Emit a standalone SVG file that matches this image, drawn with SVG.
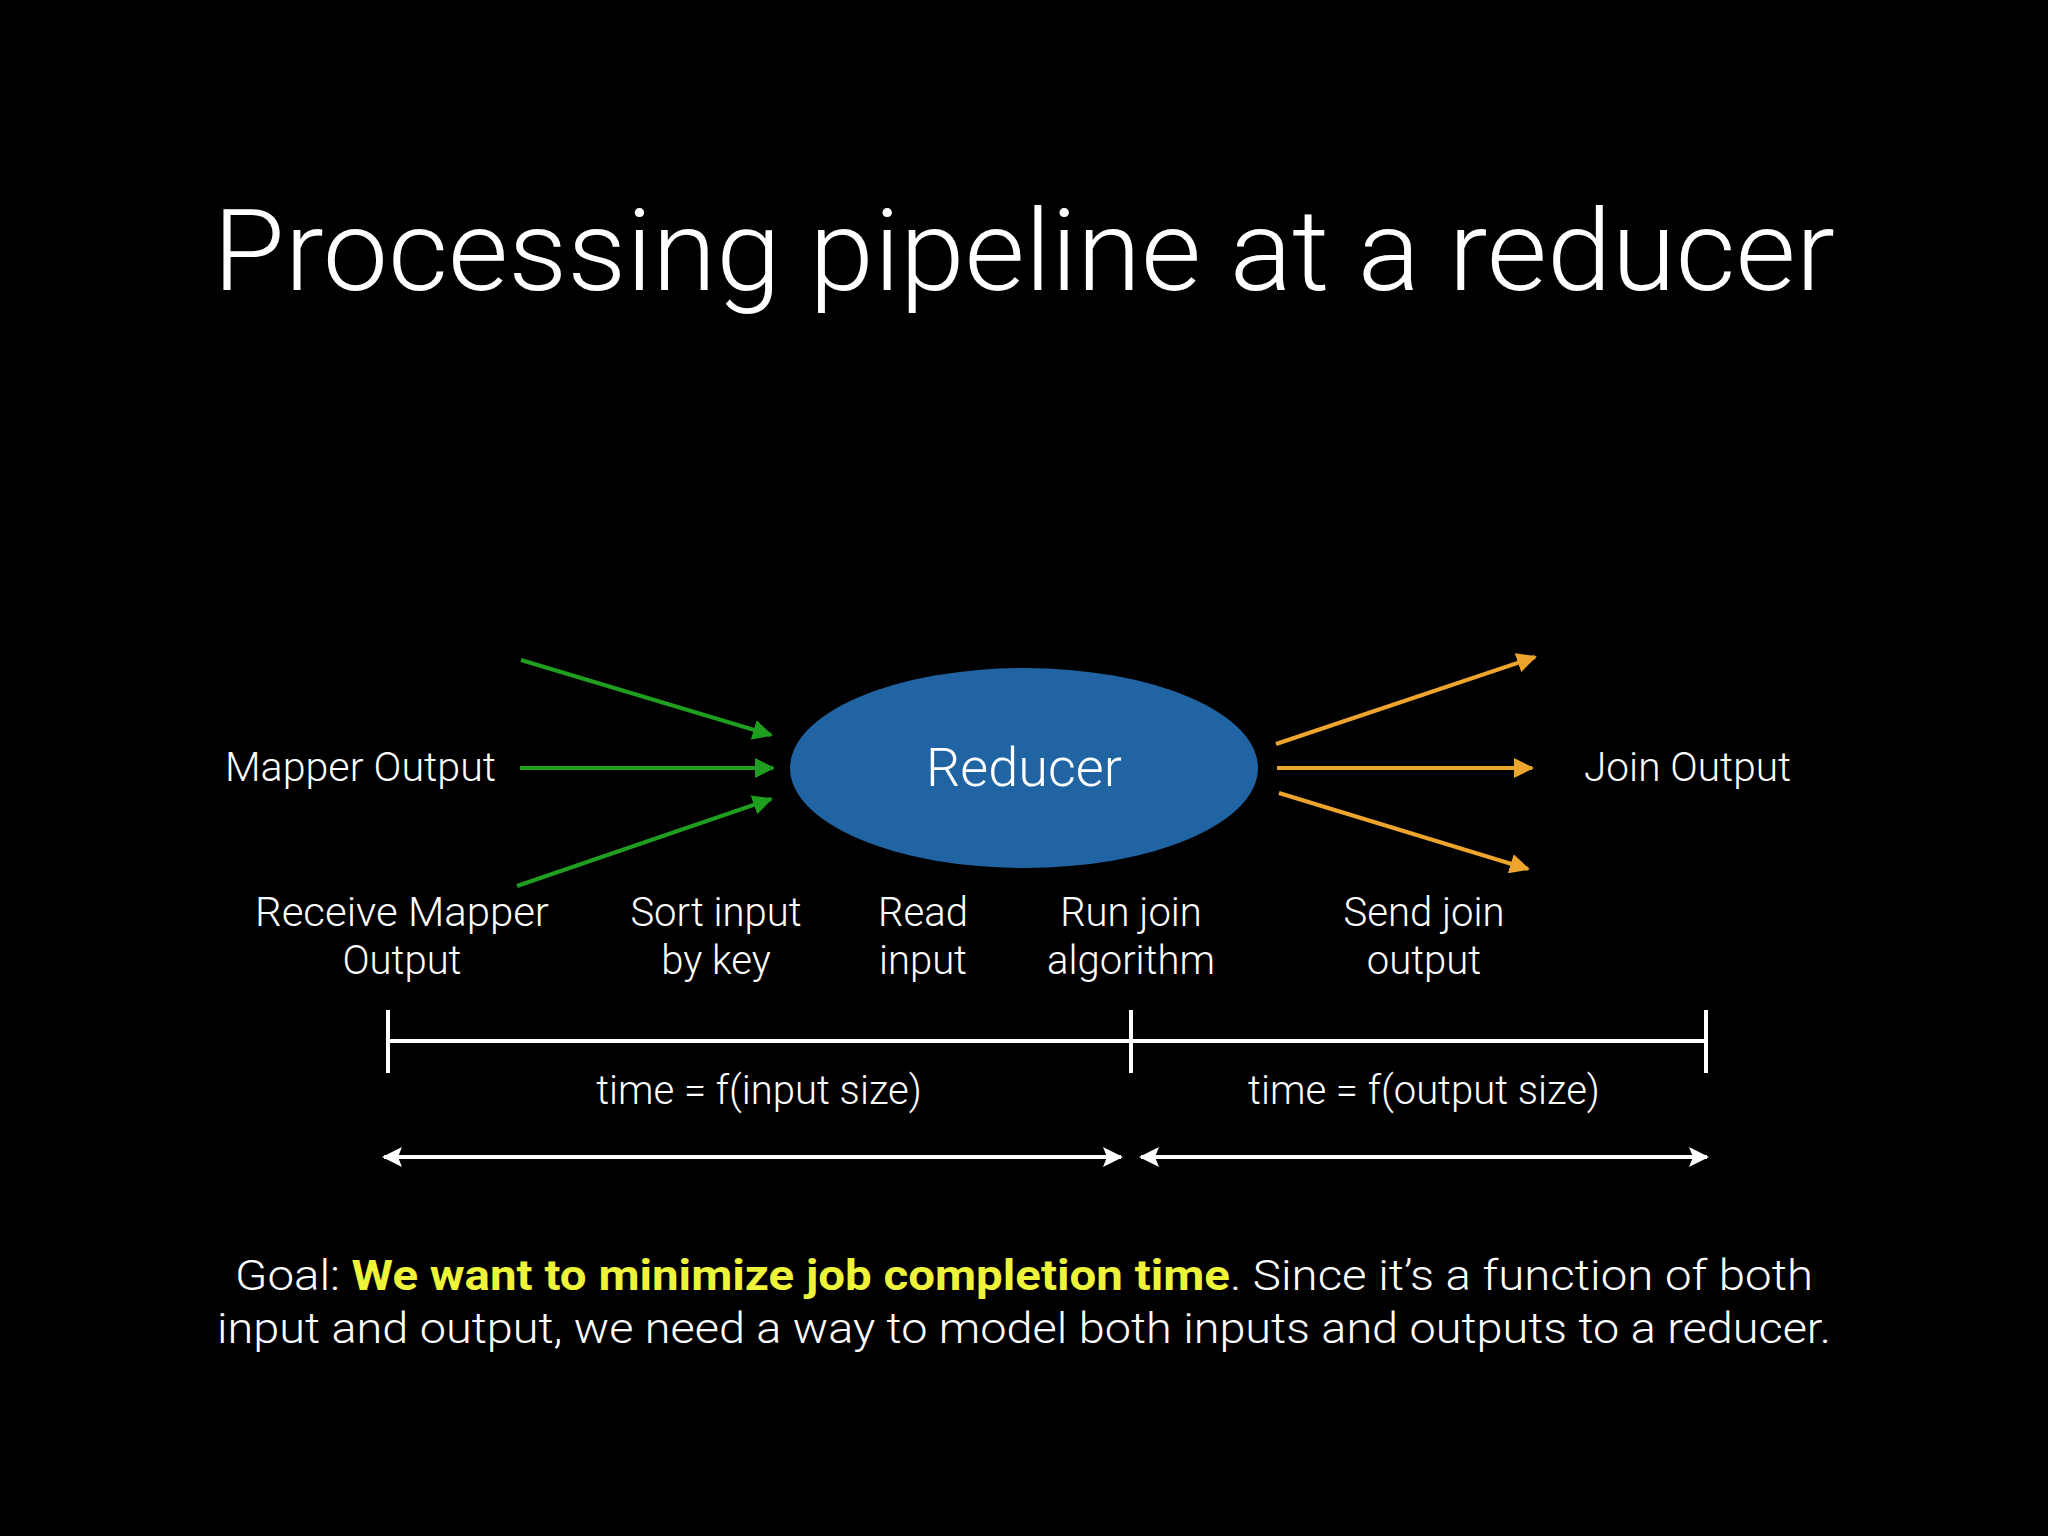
<svg xmlns="http://www.w3.org/2000/svg" width="2048" height="1536" viewBox="0 0 2048 1536">
<style>
text{font-family:Roboto,"Liberation Sans","DejaVu Sans",sans-serif;font-weight:300;fill:#ffffff}
.lbl{font-size:40px}
.mid{text-anchor:middle}
.g{stroke:#1f9e1f;stroke-width:4;fill:none}
.o{stroke:#eea52d;stroke-width:4;fill:none}
.w{stroke:#ffffff;stroke-width:4;fill:none}
.hl{fill:#eef43a;font-weight:700}
</style>
<defs>
<marker id="ag" viewBox="0 0 10 10" refX="9" refY="5" markerWidth="5" markerHeight="5" markerUnits="strokeWidth" orient="auto"><path d="M0,0L10,5L0,10z" fill="#1f9e1f"/></marker>
<marker id="ao" viewBox="0 0 10 10" refX="9" refY="5" markerWidth="5" markerHeight="5" markerUnits="strokeWidth" orient="auto"><path d="M0,0L10,5L0,10z" fill="#eea52d"/></marker>
<marker id="aw" viewBox="0 0 10 10" refX="9" refY="5" markerWidth="5" markerHeight="5" markerUnits="strokeWidth" orient="auto-start-reverse"><path d="M0,0L10,5L0,10L2,5z" fill="#ffffff"/></marker>
</defs>
<rect width="2048" height="1536" fill="#000000"/>
<text x="213" y="290" font-size="114" textLength="1622" lengthAdjust="spacingAndGlyphs">Processing pipeline at a reducer</text>
<g id="reducer">
<ellipse cx="1024" cy="768" rx="234" ry="100" fill="#2064a3"/>
<text x="1024" y="786" font-size="54" class="mid">Reducer</text>
</g>
<g id="mapper-output"><text x="225" y="781" class="lbl" textLength="271" lengthAdjust="spacingAndGlyphs">Mapper Output</text></g>
<g id="join-output"><text x="1584" y="781" class="lbl" textLength="207" lengthAdjust="spacingAndGlyphs">Join Output</text></g>
<g id="connectors">
<line class="g" x1="521" y1="660" x2="771" y2="735" marker-end="url(#ag)"/>
<line class="g" x1="520" y1="768" x2="773" y2="768" marker-end="url(#ag)"/>
<line class="g" x1="517" y1="886" x2="771" y2="799" marker-end="url(#ag)"/>
<line class="o" x1="1276" y1="744" x2="1535" y2="657" marker-end="url(#ao)"/>
<line class="o" x1="1277" y1="768" x2="1532" y2="768" marker-end="url(#ao)"/>
<line class="o" x1="1279" y1="793" x2="1528" y2="869" marker-end="url(#ao)"/>
</g>
<g id="stages">
<text class="lbl mid" x="402" y="926" textLength="294" lengthAdjust="spacingAndGlyphs">Receive Mapper</text>
<text class="lbl mid" x="402" y="974">Output</text>
<text class="lbl mid" x="716" y="926">Sort input</text>
<text class="lbl mid" x="716" y="974">by key</text>
<text class="lbl mid" x="923" y="926">Read</text>
<text class="lbl mid" x="923" y="974">input</text>
<text class="lbl mid" x="1131" y="926">Run join</text>
<text class="lbl mid" x="1131" y="974">algorithm</text>
<text class="lbl mid" x="1424" y="926">Send join</text>
<text class="lbl mid" x="1424" y="974">output</text>
</g>
<g id="timeline">
<line class="w" x1="388" y1="1041" x2="1706" y2="1041"/>
<line class="w" x1="388" y1="1010" x2="388" y2="1073"/>
<line class="w" x1="1131" y1="1010" x2="1131" y2="1073"/>
<line class="w" x1="1706" y1="1010" x2="1706" y2="1073"/>
<text class="lbl mid" x="759" y="1104">time = f(input size)</text>
<text class="lbl mid" x="1424" y="1104">time = f(output size)</text>
<line class="w" x1="384" y1="1157" x2="1121" y2="1157" marker-start="url(#aw)" marker-end="url(#aw)"/>
<line class="w" x1="1141" y1="1157" x2="1707" y2="1157" marker-start="url(#aw)" marker-end="url(#aw)"/>
</g>
<g id="goal">
<text x="235" y="1290" font-size="43" textLength="1578" lengthAdjust="spacingAndGlyphs">Goal: <tspan class="hl">We want to minimize job completion time</tspan>. Since it’s a function of both</text>
<text x="217" y="1343" font-size="43" textLength="1614" lengthAdjust="spacingAndGlyphs">input and output, we need a way to model both inputs and outputs to a reducer.</text>
</g>
</svg>
